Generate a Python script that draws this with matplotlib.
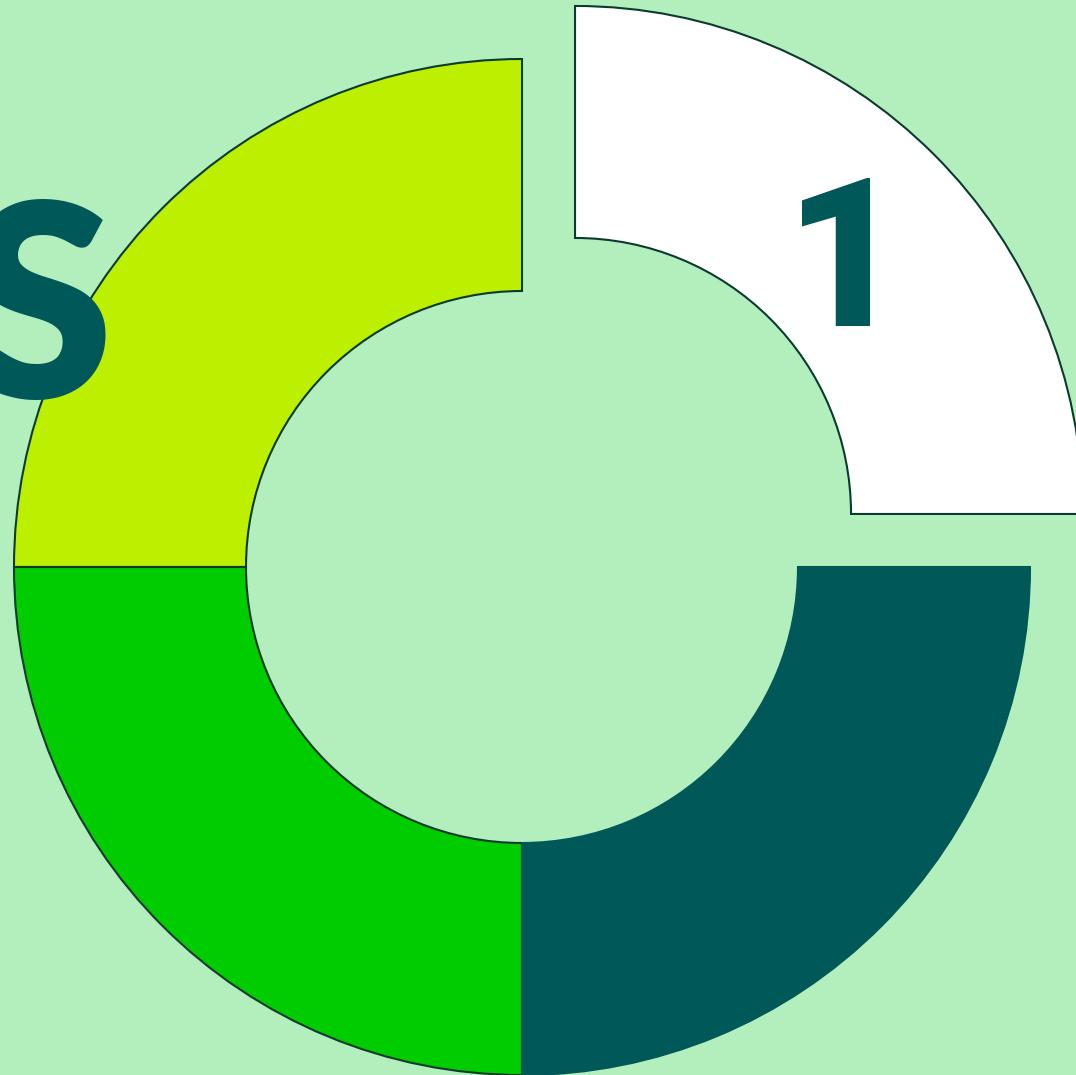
import matplotlib
matplotlib.use("Agg")
import matplotlib.pyplot as plt

# four equal quarters of the ring, white one pulled out
segments = ["top-right", "top-left", "bottom-left", "bottom-right"]
shares = [25, 25, 25, 25]
colors = ["#ffffff", "#bdf000", "#00cc00", "#015858"]
explode = [75, 0, 0, 0]
big_letter = "S"
big_number = "1"

bg = "#b2efbd"
edge = "#0b3b2e"
ink = "#015858"

fig = plt.figure(figsize=(10.76, 10.75), dpi=100, facecolor=bg)
ax = fig.add_axes([0, 0, 1, 1])
ax.set_facecolor(bg)

wedges, _ = ax.pie(shares, colors=colors, explode=explode, startangle=0,
                   counterclock=True, center=(522, 508), radius=508,
                   wedgeprops=dict(width=232, edgecolor=edge, linewidth=1.5))
wedges[3].set_edgecolor(colors[3])

ax.text(38, 756, big_letter, ha="center", va="center", fontsize=194,
        fontweight="heavy", family=["Lato", "DejaVu Sans"], color=ink)
ax.text(845, 806, big_number, ha="center", va="center", fontsize=150,
        fontweight="heavy", family=["Roboto", "DejaVu Sans"], color=ink)

ax.set_xlim(0, 1076)
ax.set_ylim(0, 1075)
ax.set_aspect("equal")
ax.axis("off")

fig.savefig("out.png", dpi=100, facecolor=bg)
